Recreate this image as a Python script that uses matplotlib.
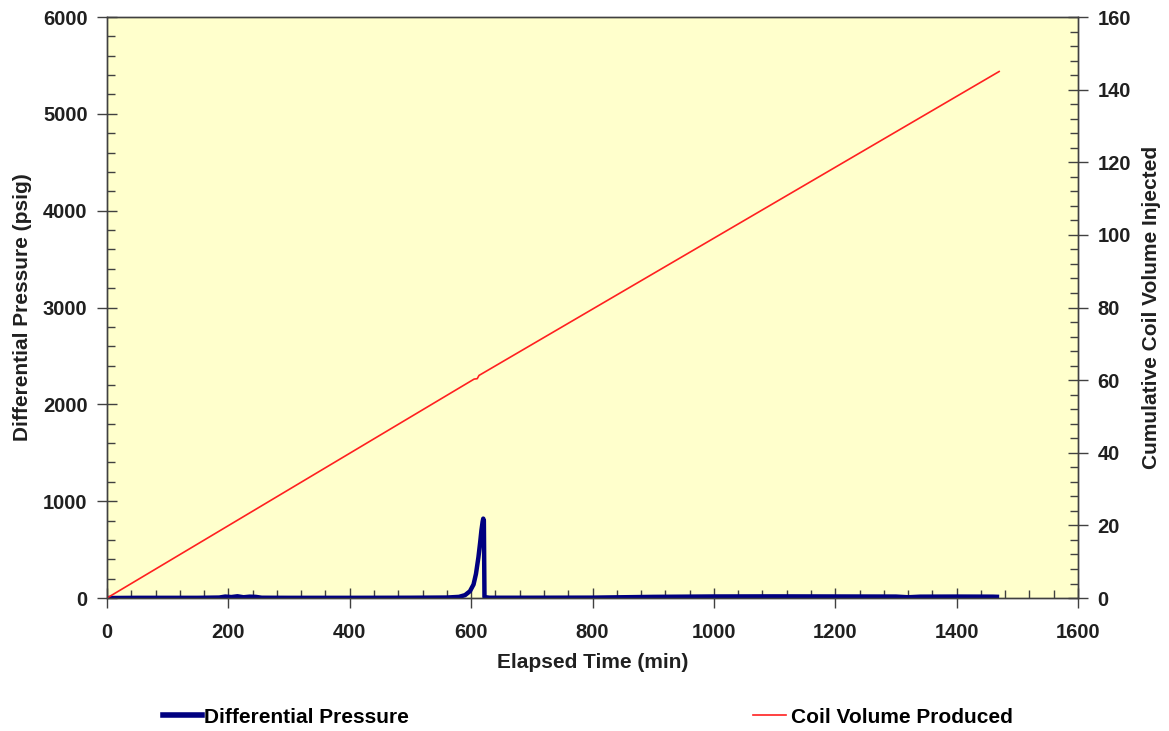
import matplotlib
matplotlib.use("Agg")
import matplotlib.pyplot as plt
from matplotlib.ticker import MultipleLocator
from matplotlib.lines import Line2D

plt.rcParams['font.family'] = ['Liberation Sans', 'DejaVu Sans']

# Differential pressure (psig) vs elapsed time (min)
dp_time = [0, 50, 100, 150, 185, 195, 205, 215, 225, 235, 245, 255, 300, 400, 500,
           560, 580, 590, 598, 604, 608, 612, 615, 617, 619, 620, 621, 622, 630,
           700, 800, 900, 950, 1000, 1100, 1200, 1300, 1320, 1340, 1400, 1460, 1470]
dp_vals = [0, 2, 2, 2, 5, 15, 10, 18, 8, 14, 12, 3, 2, 2, 3,
           5, 12, 30, 70, 140, 250, 420, 580, 700, 790, 820, 800, 10, 3,
           3, 4, 12, 14, 16, 17, 16, 15, 8, 14, 15, 14, 12]

# Cumulative coil volume (right axis) vs elapsed time (min)
cv_time = [0, 605, 610, 613, 1470]
cv_vals = [0, 60.3, 60.4, 61.3, 145.0]

fig = plt.figure(figsize=(11.69, 7.31), dpi=100)
ax = fig.add_axes([0.0915, 0.1819, 0.8307, 0.7948])
ax.set_facecolor('#FFFFCC')
ax2 = ax.twinx()

l1, = ax.plot(dp_time, dp_vals, color='#000080', lw=3.2, zorder=3, solid_capstyle='butt')
l2, = ax2.plot(cv_time, cv_vals, color='#FF2020', lw=1.2, zorder=2)

ax.set_xlim(0, 1600)
ax.set_ylim(0, 6000)
ax2.set_ylim(0, 160)

ax.xaxis.set_major_locator(MultipleLocator(200))
ax.xaxis.set_minor_locator(MultipleLocator(40))
ax.yaxis.set_major_locator(MultipleLocator(1000))
ax.yaxis.set_minor_locator(MultipleLocator(200))
ax2.yaxis.set_major_locator(MultipleLocator(20))
ax2.yaxis.set_minor_locator(MultipleLocator(4))

spine_col = '#404040'
for a in (ax, ax2):
    for s in a.spines.values():
        s.set_color(spine_col)
        s.set_linewidth(1.0)

FS = 14.5
ax.tick_params(axis='x', which='major', direction='inout', length=14, width=1, color=spine_col,
               labelsize=FS, pad=11)
ax.tick_params(axis='x', which='minor', direction='in', length=6, width=1, color=spine_col)
ax.tick_params(axis='y', which='major', direction='inout', length=14, width=1, color=spine_col,
               labelsize=FS, pad=7)
ax.tick_params(axis='y', which='minor', direction='in', length=6, width=1, color=spine_col)
ax2.tick_params(axis='y', which='major', direction='inout', length=14, width=1, color=spine_col,
                labelsize=FS, pad=7)
ax2.tick_params(axis='y', which='minor', direction='in', length=6, width=1, color=spine_col)

for lab in ax.get_xticklabels() + ax.get_yticklabels() + ax2.get_yticklabels():
    lab.set_fontweight('bold')
    lab.set_color('#202020')

LFS = 15
ax.set_xlabel('Elapsed Time (min)', fontsize=LFS, fontweight='bold', color='#202020', labelpad=8)
ax.set_ylabel('Differential Pressure (psig)', fontsize=LFS, fontweight='bold', color='#202020', labelpad=8)
ax2.set_ylabel('Cumulative Coil Volume Injected', fontsize=LFS, fontweight='bold', color='#202020', labelpad=8)

h1 = Line2D([], [], color='#000080', lw=4)
h2 = Line2D([], [], color='#FF2020', lw=1.2)
fig.legend([h1], ['Differential Pressure'], loc='center left', bbox_to_anchor=(0.123, 0.019),
           frameon=False, handlelength=1.9, handletextpad=0.1,
           prop={'weight': 'bold', 'size': 15})
fig.legend([h2], ['Coil Volume Produced'], loc='center left', bbox_to_anchor=(0.628, 0.019),
           frameon=False, handlelength=1.6, handletextpad=0.25,
           prop={'weight': 'bold', 'size': 15})

fig.savefig('out.png', dpi=100, facecolor='white')
